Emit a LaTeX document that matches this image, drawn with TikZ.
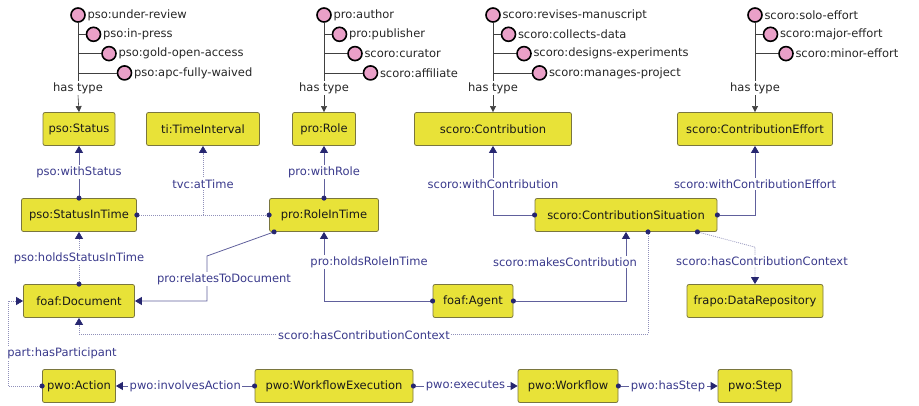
\documentclass[tikz,border=0pt]{standalone}
\usepackage{fontspec}
\setmainfont{DejaVu Sans}
\usetikzlibrary{arrows.meta}
\definecolor{clsfill}{RGB}{232,226,56}
\definecolor{clsdraw}{RGB}{122,118,62}
\definecolor{proplab}{RGB}{58,58,140}
\definecolor{propline}{RGB}{96,96,156}
\definecolor{proptip}{RGB}{38,38,112}
\definecolor{indfill}{RGB}{234,160,200}
\tikzset{
  cls/.style={draw=clsdraw,line width=.8pt,fill=clsfill,rounded corners=2pt,minimum height=33pt,inner sep=0pt,text=black!90,font=\fontsize{11.5}{13}\selectfont},
  ind/.style={circle,draw=black,line width=1.6pt,fill=indfill,minimum size=14pt,inner sep=0pt},
  indlab/.style={anchor=west,inner sep=1.5pt,text=black!85,font=\fontsize{11.5}{13}\selectfont},
  hastype/.style={fill=white,inner sep=1.5pt,text=black!85,font=\fontsize{11.5}{13}\selectfont},
  indline/.style={draw=black!75,line width=.6pt},
  lbl/.style={fill=white,inner sep=1.5pt,text=proplab,font=\fontsize{11.5}{13}\selectfont},
  rel/.style={draw=propline,line width=.8pt},
  dotrel/.style={draw=propline!70,line width=.7pt,dash pattern=on 1pt off 1pt},
  dotip/.style={{Circle[length=5pt,color=proptip]}-{Triangle[length=7pt,width=8pt,color=proptip]},shorten <=-2.5pt},
  dodot/.style={{Circle[length=5pt,color=proptip]}-{Circle[length=5pt,color=proptip]},shorten <=-2.5pt,shorten >=-2.5pt}
}
\begin{document}
\begin{tikzpicture}[x=1pt,y=-1pt]
\useasboundingbox (0,0) rectangle (919,406);
% classes
\node[cls,minimum width=72pt] (status) at (79,129) {pso:Status};
\node[cls,minimum width=113pt] (timeint) at (203,129) {ti:TimeInterval};
\node[cls,minimum width=63pt] (role) at (324,129) {pro:Role};
\node[cls,minimum width=157pt] (contrib) at (493,129) {scoro:Contribution};
\node[cls,minimum width=155pt] (effort) at (755,129) {scoro:ContributionEffort};
\node[cls,minimum width=115pt] (statusit) at (79,215) {pso:StatusInTime};
\node[cls,minimum width=109pt] (roleit) at (324,215) {pro:RoleInTime};
\node[cls,minimum width=182pt] (contribsit) at (626,215) {scoro:ContributionSituation};
\node[cls,minimum width=111pt] (document) at (79,301) {foaf:Document};
\node[cls,minimum width=80pt] (agent) at (473,301) {foaf:Agent};
\node[cls,minimum width=136pt] (datarepo) at (755,301) {frapo:DataRepository};
\node[cls,minimum width=73pt] (action) at (79,386) {pwo:Action};
\node[cls,minimum width=158pt] (wfexec) at (334,386) {pwo:WorkflowExecution};
\node[cls,minimum width=100pt] (workflow) at (568,386) {pwo:Workflow};
\node[cls,minimum width=74pt] (step) at (755,386) {pwo:Step};
% individuals
\foreach \i/\lab in {0/under-review,1/in-press,2/gold-open-access,3/apc-fully-waived}{\node[ind] (pso\i) at (78+15.5*\i,15+19.3*\i){};\node[indlab] (psol\i) at (pso\i.east){pso:\lab};}
\foreach \i/\lab in {0/pro:author,1/pro:publisher,2/scoro:curator,3/scoro:affiliate}{\node[ind] (pro\i) at (324+15.5*\i,15+19.3*\i){};\node[indlab] (prol\i) at (pro\i.east){\lab};}
\foreach \i/\lab in {0/revises-manuscript,1/collects-data,2/designs-experiments,3/manages-project}{\node[ind] (sco\i) at (493+15.5*\i,15+19.3*\i){};\node[indlab] (scol\i) at (sco\i.east){scoro:\lab};}
\foreach \i/\lab in {0/solo-effort,1/major-effort,2/minor-effort}{\node[ind] (eff\i) at (755+15.5*\i,15+19.3*\i){};\node[indlab] (effl\i) at (eff\i.east){scoro:\lab};}
\foreach \i in {1,2,3}{\draw[indline] (pso0.south |- pso\i.west) -- (pso\i.west);\draw[indline] (pro0.south |- pro\i.west) -- (pro\i.west);\draw[indline] (sco0.south |- sco\i.west) -- (sco\i.west);}
\foreach \i in {1,2}{\draw[indline] (eff0.south |- eff\i.west) -- (eff\i.west);}
\node[hastype] (psoht) at (78,88) {has type};
\node[hastype] (proht) at (324,88) {has type};
\node[hastype] (scoht) at (493,88) {has type};
\node[hastype] (effht) at (755,88) {has type};
\foreach \g/\c in {pso/status,pro/role,sco/contrib,eff/effort}{\draw[indline] (\g0.south) -- (\g ht.north);\draw[indline,-{Triangle[length=6pt,width=6pt]}] (\g ht.south) -- (\c.north);}
% properties
\draw[rel,dotip] (statusit.north) -- (status.south) node[lbl,pos=.5] (lwst) {pso:withStatus};
\draw[rel,dotip] (roleit.north) -- (role.south) node[lbl,pos=.5] (lwro) {pro:withRole};
\draw[dotrel,dodot] (statusit.east) -- (roleit.west) coordinate[pos=.5] (tmid);
\draw[dotrel,-{Triangle[length=7pt,width=8pt,color=proptip]}] (tmid) -- (timeint.south) node[lbl,pos=.45] (ltime) {tvc:atTime};
\draw[dotrel,dotip] (document.north) -- (statusit.south) node[lbl,pos=.5] (lhst) {pso:holdsStatusInTime};
\coordinate (relbend) at (207,256);
\draw[rel,dotip] ([xshift=5pt]roleit.south west) -- (relbend) |- (document.east);
\draw[rel,dotip] (agent.west) -| (roleit.south);
\draw[rel,dotip] (agent.east) -| (contribsit.south);
\draw[rel,dotip] (contribsit.west) -| (contrib.south);
\draw[rel,dotip] (contribsit.east) -| (effort.south);
\draw[dotrel,dotip] ([xshift=-20pt]contribsit.south east) -- ([yshift=37pt]datarepo.north) -- (datarepo.north);
\draw[dotrel,dotip] ([xshift=22pt]contribsit.south) |- ([yshift=-16pt]document.south) -- (document.south);
\draw[dotrel,dotip] (action.west) -- ++(-34,0) |- (document.west);
\draw[rel,dotip] (wfexec.west) -- (action.east) node[lbl,pos=.5] (linv) {pwo:involvesAction};
\draw[rel,dotip] (wfexec.east) -- (workflow.west) node[lbl,pos=.5] (lexe) {pwo:executes};
\draw[rel,dotip] (workflow.east) -- (step.west) node[lbl,pos=.5] (lstep) {pwo:hasStep};
% labels off the middle
\node[lbl] (lrel) at (224,279) {pro:relatesToDocument};
\node[lbl] (lhro) at (369,262) {pro:holdsRoleInTime};
\node[lbl] (lmak) at (565,262) {scoro:makesContribution};
\node[lbl] (lwco) at (493,184) {scoro:withContribution};
\node[lbl] (lwef) at (755,184) {scoro:withContributionEffort};
\node[lbl] (lctx) at (762,261) {scoro:hasContributionContext};
\node[lbl] (lctd) at (364,335) {scoro:hasContributionContext};
\node[lbl] (lpar) at (62,353) {part:hasParticipant};
\end{tikzpicture}
\end{document}
